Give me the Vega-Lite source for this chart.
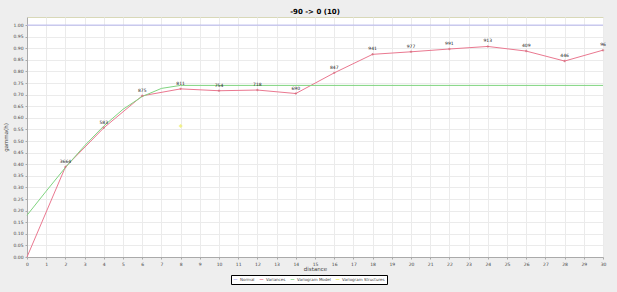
{
  "$schema": "https://vega.github.io/schema/vega-lite/v6.json",
  "width": 576,
  "height": 240,
  "autosize": {"type": "none"},
  "padding": {"left": 27, "top": 17, "right": 14, "bottom": 35},
  "background": "#eeeeee",
  "title": {"text": "-90 -> 0 (10)", "fontSize": 7, "font": "DejaVu Sans", "fontWeight": "bold", "offset": 2, "color": "#000000"},
  "config": {
    "view": {"fill": "white", "stroke": "#d8d8b8", "strokeWidth": 1},
    "font": "DejaVu Sans",
    "axis": {"labelFontSize": 4.5, "labelColor": "#444444", "titleFontSize": 5.5, "titleFontWeight": "normal", "titleColor": "#444444", "gridColor": "#ebebeb", "gridWidth": 1, "domainColor": "#aaaaaa", "tickColor": "#aaaaaa", "tickSize": 2, "labelPadding": 2, "labelOverlap": false, "labelFlush": false}
  },
  "datasets": {
    "series": [
      {"s": "Normal", "x": 0, "y": 1.0},
      {"s": "Normal", "x": 30, "y": 1.0},
      {"s": "Variances", "x": 0, "y": 0.0},
      {"s": "Variances", "x": 2, "y": 0.388},
      {"s": "Variances", "x": 4, "y": 0.557},
      {"s": "Variances", "x": 6, "y": 0.695},
      {"s": "Variances", "x": 8, "y": 0.725},
      {"s": "Variances", "x": 10, "y": 0.717},
      {"s": "Variances", "x": 12, "y": 0.72},
      {"s": "Variances", "x": 14, "y": 0.705},
      {"s": "Variances", "x": 16, "y": 0.794},
      {"s": "Variances", "x": 18, "y": 0.874},
      {"s": "Variances", "x": 20, "y": 0.885},
      {"s": "Variances", "x": 22, "y": 0.897},
      {"s": "Variances", "x": 24, "y": 0.908},
      {"s": "Variances", "x": 26, "y": 0.888},
      {"s": "Variances", "x": 28, "y": 0.845},
      {"s": "Variances", "x": 30, "y": 0.892},
      {"s": "Variogram Model", "x": 0, "y": 0.18},
      {"s": "Variogram Model", "x": 1, "y": 0.284},
      {"s": "Variogram Model", "x": 2, "y": 0.386},
      {"s": "Variogram Model", "x": 3, "y": 0.48},
      {"s": "Variogram Model", "x": 4, "y": 0.565},
      {"s": "Variogram Model", "x": 5, "y": 0.637},
      {"s": "Variogram Model", "x": 6, "y": 0.692},
      {"s": "Variogram Model", "x": 7, "y": 0.727},
      {"s": "Variogram Model", "x": 8, "y": 0.74},
      {"s": "Variogram Model", "x": 30, "y": 0.74},
      {"s": "Variogram Structures", "x": 8, "y": 0.565}
    ],
    "labels": [
      {"x": 2, "y": 0.388, "n": "3664"},
      {"x": 4, "y": 0.557, "n": "583"},
      {"x": 6, "y": 0.695, "n": "875"},
      {"x": 8, "y": 0.725, "n": "811"},
      {"x": 10, "y": 0.717, "n": "754"},
      {"x": 12, "y": 0.72, "n": "718"},
      {"x": 14, "y": 0.705, "n": "690"},
      {"x": 16, "y": 0.794, "n": "847"},
      {"x": 18, "y": 0.874, "n": "941"},
      {"x": 20, "y": 0.885, "n": "977"},
      {"x": 22, "y": 0.897, "n": "991"},
      {"x": 24, "y": 0.908, "n": "913"},
      {"x": 26, "y": 0.888, "n": "409"},
      {"x": 28, "y": 0.845, "n": "446"},
      {"x": 30, "y": 0.892, "n": "96"}
    ]
  },
  "encoding": {
    "x": {"field": "x", "type": "quantitative", "scale": {"domain": [0, 30], "nice": false}, "axis": {"title": "distance", "values": [0,1,2,3,4,5,6,7,8,9,10,11,12,13,14,15,16,17,18,19,20,21,22,23,24,25,26,27,28,29,30], "titlePadding": 1}},
    "y": {"field": "y", "type": "quantitative", "scale": {"domain": [0, 1.035], "nice": false, "zero": false}, "axis": {"title": "gamma(h)", "format": ".2f", "values": [0,0.05,0.1,0.15,0.2,0.25,0.3,0.35,0.4,0.45,0.5,0.55,0.6,0.65,0.7,0.75,0.8,0.85,0.9,0.95,1.0], "titlePadding": 4}}
  },
  "layer": [
    {
      "data": {"name": "series"},
      "transform": [{"filter": "datum.s !== 'Variogram Structures'"}],
      "mark": {"type": "line", "strokeWidth": 1},
      "encoding": {
        "color": {"field": "s", "type": "nominal", "scale": {"domain": ["Normal", "Variances", "Variogram Model", "Variogram Structures"], "range": ["#b4b4ee", "#ea7890", "#7fd47f", "#eeee55"]},
          "legend": {"title": null, "orient": "none", "legendX": 204, "legendY": 258, "direction": "horizontal", "gridAlign": "none", "labelFontSize": 4, "symbolSize": 14, "symbolType": "stroke", "symbolStrokeWidth": 1, "strokeColor": "#000000", "fillColor": "white", "padding": 2, "columnPadding": 2, "labelOffset": 2, "labelColor": "#444444"}}
      }
    },
    {
      "data": {"name": "series"},
      "transform": [{"filter": "datum.s === 'Variogram Structures'"}],
      "mark": {"type": "point", "shape": "cross", "filled": true, "size": 12},
      "encoding": {
        "color": {"field": "s", "type": "nominal"}
      }
    },
    {
      "data": {"name": "labels"},
      "mark": {"type": "point", "shape": "cross", "filled": true, "size": 6, "color": "#d06070"}
    },
    {
      "data": {"name": "labels"},
      "mark": {"type": "text", "fontSize": 4.5, "dy": -5, "color": "#222222"},
      "encoding": {
        "text": {"field": "n"}
      }
    }
  ]
}
